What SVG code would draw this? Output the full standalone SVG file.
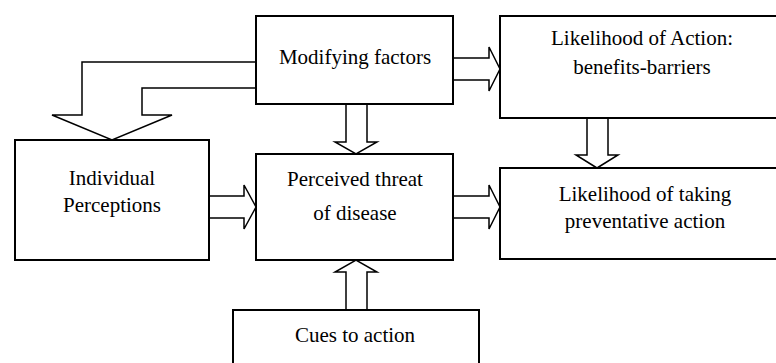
<svg xmlns="http://www.w3.org/2000/svg" width="776" height="363" viewBox="0 0 776 363">
<style>
.box{fill:#fff;stroke:#000;stroke-width:2}
.arr{fill:#fff;stroke:#000;stroke-width:1.5;stroke-linejoin:miter}
.t{font-family:'Liberation Serif','DejaVu Serif',serif;font-size:21px;fill:#000;text-anchor:middle}
</style>
<rect width="776" height="363" fill="#fff"/>
<g id="connectors">
<polyline class="arr" points="256,62 82,62 82,115 52,115 112,140 172,115 142,115 142,88 256,88"/>
<polygon class="arr" points="453,58 489,58 489,47 500,69 489,91 489,80 453,80"/>
<polygon class="arr" points="453,196 489,196 489,185 500,207 489,229 489,218 453,218"/>
<polygon class="arr" points="209,196 244,196 244,185 256,207 244,229 244,218 209,218"/>
<polygon class="arr" points="346,104 367,104 367,142 377,142 356,154 335,142 346,142"/>
<polygon class="arr" points="346,310 367,310 367,272 377,272 356,260 335,272 346,272"/>
<polygon class="arr" points="587,118 608,118 608,155 618,155 597,168 576,155 587,155"/>
</g>
<g id="modifying">
<rect class="box" x="256" y="16" width="197" height="88"/>
<text class="t" font-family="Liberation Serif, serif" x="355" y="64">Modifying factors</text>
</g>
<g id="likelihood-action">
<rect class="box" x="500" y="16" width="284" height="102"/>
<text class="t" x="642" y="45">Likelihood of Action:</text>
<text class="t" x="642" y="74">benefits-barriers</text>
</g>
<g id="individual">
<rect class="box" x="15" y="140" width="194" height="120"/>
<text class="t" x="112" y="185">Individual</text>
<text class="t" x="112" y="212">Perceptions</text>
</g>
<g id="perceived">
<rect class="box" x="256" y="154" width="197" height="106"/>
<text class="t" x="355" y="186">Perceived threat</text>
<text class="t" x="355" y="220">of disease</text>
</g>
<g id="likelihood-taking">
<rect class="box" x="500" y="168" width="284" height="91"/>
<text class="t" x="645" y="201">Likelihood of taking</text>
<text class="t" x="645" y="228">preventative action</text>
</g>
<g id="cues">
<rect class="box" x="233" y="310" width="246" height="70"/>
<text class="t" x="355" y="342">Cues to action</text>
</g>
</svg>
